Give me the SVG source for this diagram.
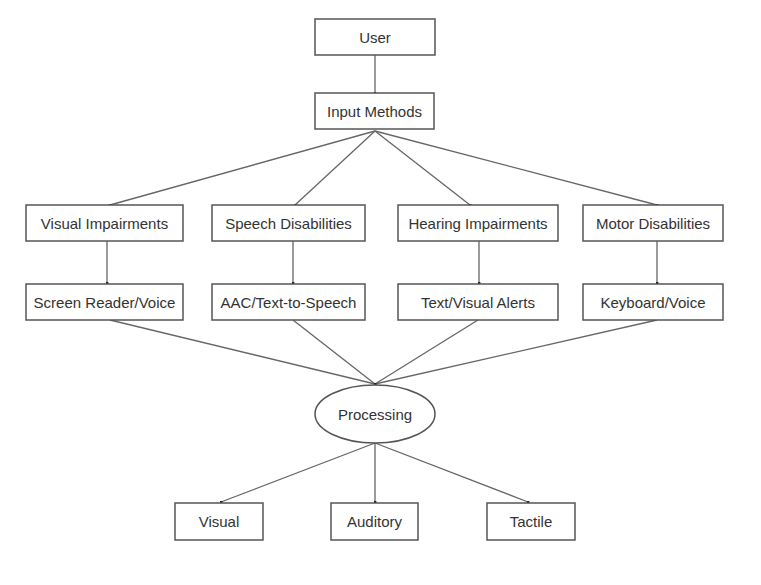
<svg xmlns="http://www.w3.org/2000/svg" width="761" height="585" viewBox="0 0 761 585">
<style>
.box{fill:#fff;stroke:#555;stroke-width:1.5}
.lbl{font-family:"Liberation Sans",Arial,sans-serif;font-size:15px;fill:#333;text-anchor:middle;dominant-baseline:central}
.edge{stroke:#666;stroke-width:1.3;fill:none;marker-end:url(#dot)}
</style>
<defs>
<marker id="dot" viewBox="0 0 4 4" refX="2" refY="2" markerWidth="3" markerHeight="3" markerUnits="userSpaceOnUse"><circle cx="2" cy="2" r="2" fill="#222"/></marker>
</defs>
<rect width="761" height="585" fill="#fff"/>
<g id="connectors">
<line class="edge" x1="375" y1="55" x2="375" y2="93"/>
<line class="edge" x1="375" y1="131" x2="110" y2="205"/>
<line class="edge" x1="375" y1="131" x2="295" y2="205"/>
<line class="edge" x1="375" y1="131" x2="470" y2="205"/>
<line class="edge" x1="375" y1="131" x2="657" y2="205"/>
<line class="edge" x1="107" y1="241" x2="107" y2="283"/>
<line class="edge" x1="293" y1="241" x2="293" y2="283"/>
<line class="edge" x1="479" y1="241" x2="479" y2="283"/>
<line class="edge" x1="657" y1="241" x2="657" y2="283"/>
<line class="edge" x1="110" y1="320" x2="375" y2="384"/>
<line class="edge" x1="293" y1="320" x2="375" y2="384"/>
<line class="edge" x1="478" y1="320" x2="375" y2="384"/>
<line class="edge" x1="657" y1="320" x2="375" y2="384"/>
<line class="edge" x1="375" y1="443" x2="221" y2="502"/>
<line class="edge" x1="375" y1="443" x2="375" y2="502"/>
<line class="edge" x1="375" y1="443" x2="528" y2="502"/>
</g>
<g id="user"><rect class="box" x="315" y="19" width="120" height="36"/><text class="lbl" x="375" y="37">User</text></g>
<g id="input"><rect class="box" x="315" y="93" width="119" height="36"/><text class="lbl" x="374.5" y="111">Input Methods</text></g>
<g id="visual-imp"><rect class="box" x="26" y="205" width="157" height="36"/><text class="lbl" x="104.5" y="223">Visual Impairments</text></g>
<g id="speech-dis"><rect class="box" x="212" y="205" width="153" height="36"/><text class="lbl" x="288.5" y="223">Speech Disabilities</text></g>
<g id="hearing-imp"><rect class="box" x="398" y="205" width="160" height="36"/><text class="lbl" x="478" y="223">Hearing Impairments</text></g>
<g id="motor-dis"><rect class="box" x="583" y="205" width="140" height="36"/><text class="lbl" x="653" y="223">Motor Disabilities</text></g>
<g id="screen-reader"><rect class="box" x="26" y="284" width="157" height="36"/><text class="lbl" x="104.5" y="302">Screen Reader/Voice</text></g>
<g id="aac"><rect class="box" x="212" y="284" width="153" height="36"/><text class="lbl" x="288.5" y="302">AAC/Text-to-Speech</text></g>
<g id="alerts"><rect class="box" x="398" y="284" width="160" height="36"/><text class="lbl" x="478" y="302">Text/Visual Alerts</text></g>
<g id="keyboard"><rect class="box" x="583" y="284" width="140" height="36"/><text class="lbl" x="653" y="302">Keyboard/Voice</text></g>
<g id="processing"><ellipse class="box" cx="375" cy="414" rx="60" ry="29"/><text class="lbl" x="375" y="414">Processing</text></g>
<g id="out-visual"><rect class="box" x="175" y="503" width="88" height="37"/><text class="lbl" x="219" y="521.5">Visual</text></g>
<g id="out-auditory"><rect class="box" x="331" y="503" width="87" height="37"/><text class="lbl" x="374.5" y="521.5">Auditory</text></g>
<g id="out-tactile"><rect class="box" x="487" y="503" width="88" height="37"/><text class="lbl" x="531" y="521.5">Tactile</text></g>
</svg>
